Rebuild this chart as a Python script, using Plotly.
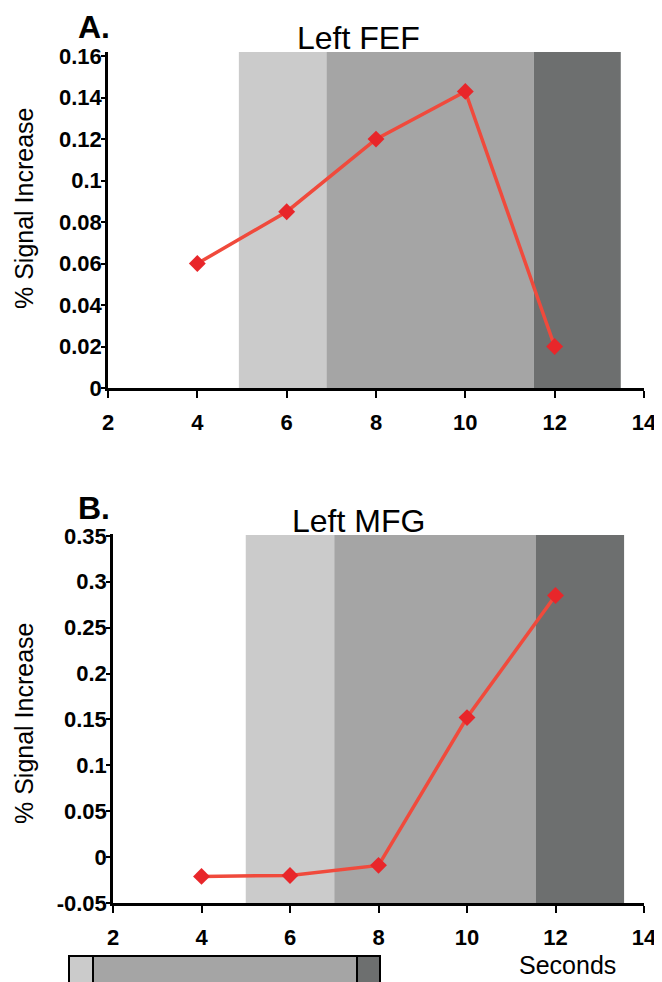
import plotly.graph_objects as go

# ---- data ----
seconds = [4, 6, 8, 10, 12]
fef_signal = [0.060, 0.085, 0.120, 0.143, 0.020]
mfg_signal = [-0.021, -0.020, -0.009, 0.152, 0.285]

x_ticks = [2, 4, 6, 8, 10, 12, 14]
x_tick_labels = ["2", "4", "6", "8", "10", "12", "14"]
fef_ticks = [0, 0.02, 0.04, 0.06, 0.08, 0.10, 0.12, 0.14, 0.16]
fef_tick_labels = ["0", "0.02", "0.04", "0.06", "0.08", "0.1", "0.12", "0.14", "0.16"]
mfg_ticks = [-0.05, 0, 0.05, 0.10, 0.15, 0.20, 0.25, 0.30, 0.35]
mfg_tick_labels = ["-0.05", "0", "0.05", "0.1", "0.15", "0.2", "0.25", "0.3", "0.35"]

# trial-phase boundaries (seconds)
fef_phases = [4.93, 6.89, 11.53, 13.48]
mfg_phases = [5.0, 7.0, 11.55, 13.55]
phase_colors = ["#cbcbcb", "#a5a5a5", "#6d6f6f"]

W, H = 662, 982
OFF = 8  # page body margin
FONT = "Liberation Sans, Arial, sans-serif"
LINE_COLOR = "#f04a3c"
MARKER_COLOR = "#e8262a"

fig = go.Figure()

fig.add_trace(go.Scatter(
    x=seconds, y=fef_signal, xaxis="x", yaxis="y", mode="lines+markers",
    line=dict(color=LINE_COLOR, width=3.5),
    marker=dict(symbol="diamond", size=13, color=MARKER_COLOR),
    showlegend=False))
fig.add_trace(go.Scatter(
    x=seconds, y=mfg_signal, xaxis="x2", yaxis="y2", mode="lines+markers",
    line=dict(color=LINE_COLOR, width=3.5),
    marker=dict(symbol="diamond", size=13, color=MARKER_COLOR),
    showlegend=False))

shapes = []
for (xr, yr, phases, ytop, ybot) in [("x", "y", fef_phases, 0.162, 0),
                                      ("x2", "y2", mfg_phases, 0.351, -0.05)]:
    for i in range(3):
        shapes.append(dict(type="rect", xref=xr, yref=yr, layer="below",
                           x0=phases[i], x1=phases[i + 1], y0=ybot, y1=ytop,
                           fillcolor=phase_colors[i], line=dict(width=0)))


def px(x):
    return (x - OFF) / W


def py(y):
    return 1 - (y - OFF) / H


# small timeline bar at bottom
bar_x = [69, 93, 357, 380]
for i in range(3):
    shapes.append(dict(type="rect", xref="paper", yref="paper",
                       x0=px(bar_x[i]), x1=px(bar_x[i + 1]), y0=py(995), y1=py(956),
                       fillcolor=phase_colors[i], line=dict(color="black", width=2)))

axis_common = dict(showgrid=False, zeroline=False, showline=True, linecolor="black",
                   linewidth=2.5, ticks="outside", tickcolor="black", tickwidth=2,
                   automargin=False,
                   tickfont=dict(family=FONT, size=22, color="black", weight="bold"),
                   fixedrange=True)
x_axis_extra = dict(ticklen=7, ticklabelstandoff=6, **axis_common)
y_axis_extra = dict(ticklen=4, ticklabelstandoff=-5, **axis_common)


def ann(text, x, y, size, bold=False, angle=0):
    f = dict(family=FONT, size=size, color="black")
    if bold:
        f["weight"] = "bold"
    return dict(text=text, x=px(x), y=py(y), xref="paper", yref="paper", showarrow=False,
                xanchor="center", yanchor="middle", textangle=angle, font=f)


fig.update_layout(
    template="none",
    width=W, height=H, autosize=False,
    margin=dict(l=0, r=0, t=0, b=0, pad=0),
    paper_bgcolor="white", plot_bgcolor="rgba(0,0,0,0)",
    shapes=shapes,
    xaxis=dict(domain=[px(108), px(644)], range=[2, 14], anchor="y",
               tickvals=x_ticks, ticktext=x_tick_labels, **x_axis_extra),
    yaxis=dict(domain=[py(388), py(52)], range=[0, 0.162], anchor="x",
               tickvals=fef_ticks, ticktext=fef_tick_labels, **y_axis_extra),
    xaxis2=dict(domain=[px(113), px(644)], range=[2, 14], anchor="y2",
                tickvals=x_ticks, ticktext=x_tick_labels, **x_axis_extra),
    yaxis2=dict(domain=[py(903), py(534)], range=[-0.05, 0.352], anchor="x2",
                tickvals=mfg_ticks, ticktext=mfg_tick_labels, **y_axis_extra),
    annotations=[
        ann("A.", 94, 27, 32, bold=True),
        ann("Left FEF", 358, 38, 32),
        ann("% Signal Increase", 24, 208, 25, angle=-90),
        ann("B.", 94, 508, 32, bold=True),
        ann("Left MFG", 358, 521, 32),
        ann("% Signal Increase", 24, 723, 25, angle=-90),
        ann("Seconds", 567, 965, 25),
    ],
)

fig.write_html("out.html")
